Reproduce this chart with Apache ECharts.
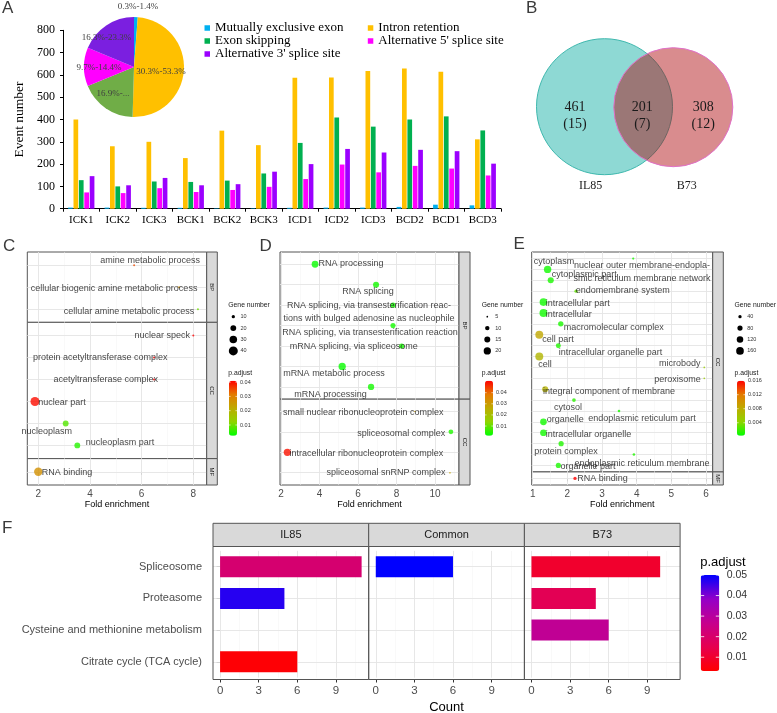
<!DOCTYPE html>
<html><head><meta charset="utf-8">
<script src="https://cdn.jsdelivr.net/npm/echarts@6/dist/echarts.min.js"></script>
<style>html,body{margin:0;padding:0;background:#fff}#c{width:777px;height:713px}</style>
</head><body><div id="c"></div>
<script>
// ================= DATA =================
// Panel A
const sampleNames = ['ICK1','ICK2','ICK3','BCK1','BCK2','BCK3','ICD1','ICD2','ICD3','BCD2','BCD1','BCD3'];
const eventTypes = ['Mutually exclusive exon','Intron retention','Exon skipping',"Alternative 5' splice site","Alternative 3' splice site"];
const mxeCounts = [5,5,4,4,2,2,4,5,5,8,18,15];
const irCounts  = [400,280,300,227,350,285,587,588,617,629,614,311];
const esCounts  = [128,100,122,120,126,158,295,409,368,400,414,351];
const a5Counts  = [73,70,92,75,84,98,133,198,163,192,180,149];
const a3Counts  = [146,105,138,105,110,166,200,268,252,264,258,202];
const pieShares = [1.2,49.2,18.3,12.5,18.7];
const pieLabels = ['0.3%-1.4%','30.3%-53.3%','16.9%-...','9.7%-14.4%','16.3%-23.3%'];
// Panel B
const vennSets = ['IL85','B73'];
const vennGeneCounts = [461,201,308];
const vennPathwayCounts = [15,7,12];
// Panel C
const cTerms = ['amine metabolic process','cellular biogenic amine metabolic process','cellular amine metabolic process','nuclear speck','protein acetyltransferase complex','acetyltransferase complex','nuclear part','nucleoplasm','nucleoplasm part','RNA binding'];
const cOntology = ['BP','BP','BP','CC','CC','CC','CC','CC','CC','MF'];
const cFold = [5.71,7.45,8.18,8.00,6.48,6.48,1.87,3.06,3.51,2.00];
const cGeneNumber = [3,3,3,3,3,3,40,20,20,36];
const cPadjust = [0.035,0.027,0.010,0.041,0.041,0.041,0.040,0.008,0.005,0.027];
const cSizeTicks = [10,20,30,40];
const cPTicks = [0.04,0.03,0.02,0.01];
// Panel D
const dTerms = ['RNA processing','RNA splicing','RNA splicing, via transesterification reac-\ntions with bulged adenosine as nucleophile','RNA splicing, via transesterification reaction','mRNA splicing, via spliceosome','mRNA metabolic process','mRNA processing','small nuclear ribonucleoprotein complex','spliceosomal complex','intracellular ribonucleoprotein complex','spliceosomal snRNP complex'];
const dOntology = ['BP','BP','BP','BP','BP','BP','BP','CC','CC','CC','CC'];
const dFold = [3.77,6.94,7.82,7.82,8.27,5.18,6.68,8.96,10.83,2.33,10.78];
const dGeneNumber = [18,15,12,12,12,20,16,4,11,20,5];
const dPadjust = [0.002,0.003,0.003,0.003,0.003,0.002,0.003,0.030,0.004,0.049,0.028];
const dSizeTicks = [5,10,15,20];
const dPTicks = [0.04,0.03,0.02,0.01];
// Panel E
const eTerms = ['nuclear outer membrane-endopla-\nsmic reticulum membrane network','cytoplasm','cytoplasmic part','endomembrane system','intracellular part','intracellular','macromolecular complex','cell part','intracellular organelle part','cell','microbody','peroxisome','integral component of membrane','cytosol','endoplasmic reticulum part','organelle','intracellular organelle','protein complex','endoplasmic reticulum membrane','organelle part','RNA binding'];
const eOntology = ['CC','CC','CC','CC','CC','CC','CC','CC','CC','CC','CC','CC','CC','CC','CC','CC','CC','CC','CC','CC','MF'];
const eFold = [3.90,1.43,1.52,2.25,1.31,1.31,1.81,1.19,1.74,1.19,5.95,5.95,1.36,2.19,3.49,1.31,1.31,1.82,3.92,1.74,2.22];
const eGeneNumber = [25,150,105,40,160,170,85,170,75,170,8,8,105,47,30,125,125,80,30,80,40];
const ePadjust = [0.001,0.0008,0.001,0.003,0.0007,0.0007,0.001,0.0085,0.0012,0.0072,0.005,0.005,0.0075,0.0015,0.001,0.0008,0.0008,0.0012,0.0012,0.001,0.016];
const eSizeTicks = [40,80,120,160];
const ePTicks = [0.016,0.012,0.008,0.004];
// Panel F
const fGroups = ['IL85','Common','B73'];
const fPathways = ['Spliceosome','Proteasome','Cysteine and methionine metabolism','Citrate cycle (TCA cycle)'];
const fCounts = { IL85:[11,5,null,6], Common:[6,null,null,null], B73:[10,5,6,null] };
const fPadjust = { IL85:[0.021,0.047,null,0.004], Common:[0.05,null,null,null], B73:[0.010,0.016,0.028,null] };
const fXTicksMajor = [0,3,6,9];
const fPTicks = [0.05,0.04,0.03,0.02,0.01];

// ================= LAYOUT / STYLE =================
const SANS = 'Liberation Sans, Arial, sans-serif';
const SERIF = 'Liberation Serif, Times New Roman, serif';
const GYR = ['#00FF00','#8FD400','#BDAB00','#E47A00','#FF0000'];
const RB = ['#FF0000','#E6004F','#C6008D','#9400C8','#0000FF'];
const aColors = ['#00B0F0','#FFC000','#00B050','#FF00FF','#9B00FF'];
const pieColors = ['#00B0F0','#FFC000','#70AD47','#FF00FF','#7B1FE0'];
const pieLabelOffset = [[3,-32],[-1,3],[-5,4],[-7,1],[-12,-6]];
const cLabelOffset = [[16,-5],[-65,1.6],[-69,2],[-31,0.3],[-53.7,0.3],[-48.3,0],[27,0.6],[-19,7.7],[42.7,-2.7],[28.7,1]];
const dLabelOffset = [[36,-1],[-8,7],[-24,7.2],[-23,7.2],[-48,0],[-8.3,7],[-40.5,7.3],[-51.7,1.4],[-49.7,1.2],[79,1],[-64,0]];
const eLabelOffset = [[8.7,13.2],[6.5,-8.4],[33.5,-5.3],[46.8,-0.5],[34.2,1.2],[25.2,2],[53,3.4],[18.7,5.2],[52.2,6.6],[5.7,7.7],[-24.6,-3.5],[-26.8,1.6],[63.8,2.4],[-6,7.5],[23,7.9],[21.7,-2],[45,1.4],[4.8,7.9],[8,8.6],[29.7,1.1],[27.5,0.5]];

const grids = [], xAxes = [], yAxes = [], series = [], graphics = [], visualMaps = [];

function txt(text, x, y, o) {
  o = o || {};
  graphics.push({type:'text', x, y, rotation:o.rotation||0, z:o.z||20, silent:true,
    style:{text, fontSize:o.size||10, fontFamily:o.font||SANS, fill:o.color||'#000',
      align:o.align||'center', verticalAlign:o.valign||'middle', textAlign:o.align||'center', textVerticalAlign:o.valign||'middle', lineHeight:o.lh}});
}

// ---------- Panel A ----------
grids.push({left:63, top:30.3, width:438, height:178.4, outerBoundsMode:'none'});
xAxes.push({type:'category', gridIndex:0, data:sampleNames,
  axisLine:{show:true, lineStyle:{color:'#000', width:1}}, axisTick:{show:true, interval:0, length:3, lineStyle:{color:'#000'}},
  axisLabel:{interval:0, fontFamily:SERIF, fontSize:11, color:'#000', margin:6}, splitLine:{show:false}});
yAxes.push({type:'value', gridIndex:0, min:0, max:800, interval:100,
  axisLine:{show:true, lineStyle:{color:'#000'}}, axisTick:{show:true, length:3, lineStyle:{color:'#000'}},
  axisLabel:{fontFamily:SERIF, fontSize:12, color:'#000', margin:8}, splitLine:{show:false},
  name:'Event number', nameLocation:'middle', nameGap:29, nameTextStyle:{fontFamily:SERIF, fontSize:13.5, color:'#000'}});
const aValues = [mxeCounts, irCounts, esCounts, a5Counts, a3Counts];
eventTypes.forEach((name,i)=>series.push({type:'bar', name, xAxisIndex:0, yAxisIndex:0, data:aValues[i],
  barWidth:4.7, barGap:'15%', itemStyle:{color:aColors[i]}, silent:true}));
series.push({type:'pie', center:[134,67], radius:50, startAngle:90, clockwise:true, silent:true, z:5,
  data:pieShares.map((v,i)=>({value:v, name:eventTypes[i], itemStyle:{color:pieColors[i], borderWidth:0},
    label:{offset:pieLabelOffset[i], formatter:pieLabels[i]}})),
  label:{show:true, position:'inside', rotate:0, fontSize:9, fontFamily:SERIF, color:'#404040'},
  labelLine:{show:false}});

// ---------- Panel B (Venn) ----------
graphics.push({type:'circle', z:5, silent:true, shape:{cx:604.5, cy:106.7, r:68}, style:{fill:'#8ED9D4', stroke:'#3FB8AE', lineWidth:1}});
graphics.push({type:'circle', z:6, silent:true, shape:{cx:673.3, cy:107.2, r:59.5}, style:{fill:'rgba(171,0,4,0.45)', stroke:'#E070C8', lineWidth:1}});
const vennX = [575, 642.3, 703.2];
vennGeneCounts.forEach((v,i)=>{
  txt(String(v), vennX[i], 107.3, {size:14, font:SERIF, color:'#1a1a1a'});
  txt('('+vennPathwayCounts[i]+')', vennX[i], 124, {size:14, font:SERIF, color:'#1a1a1a'});
});
txt(vennSets[0], 590.7, 186, {size:12, font:SERIF, color:'#1a1a1a'});
txt(vennSets[1], 686.7, 186, {size:12, font:SERIF, color:'#1a1a1a'});

// ---------- Dot panels ----------
function sizeScale(n0, d0, slope, minD2) { return n => Math.sqrt(Math.max(minD2, d0*d0 + (n-n0)*slope)); }

function buildDot(cfg) {
  const facets = [...new Set(cfg.ontology)];
  const counts = facets.map(f=>cfg.ontology.filter(o=>o===f).length);
  const unit = (cfg.bottom-cfg.top)/counts.reduce((s,n)=>s+n+0.2,0);
  let y = cfg.top;
  const idx = [];
  facets.forEach((f,fi)=>{
    const h = (counts[fi]+0.2)*unit;
    const gi = grids.length;
    const isBottom = fi===facets.length-1;
    grids.push({left:cfg.left, top:y, width:cfg.right-cfg.left, height:h, show:true, borderColor:'#555', borderWidth:1, backgroundColor:'#fff', outerBoundsMode:'none'});
    xAxes.push({type:'value', gridIndex:gi, min:cfg.xmin, max:cfg.xmax, splitNumber:cfg.splitNumber, show:isBottom,
      axisLine:{show:false}, axisTick:{show:true, length:3, lineStyle:{color:'#333'}},
      axisLabel:{fontSize:10, fontFamily:SANS, color:'#4D4D4D', margin:4, showMinLabel:false, showMaxLabel:false},
      splitLine:{show:false}, name:isBottom?'Fold enrichment':'', nameLocation:'middle', nameGap:13.5,
      nameTextStyle:{fontSize:9, fontFamily:SANS, color:'#000'}});
    yAxes.push({type:'value', gridIndex:gi, min:-0.6, max:counts[fi]-0.4, inverse:true, show:false});
    const data = []; let r = 0;
    cfg.ontology.forEach((o,i)=>{ if(o!==f) return;
      data.push({name:cfg.terms[i], value:[cfg.fold[i], r, cfg.genes[i], cfg.padj[i]], label:{offset:cfg.labelOffset[i]}}); r++; });
    const ml = [];
    cfg.majors.forEach(v=>ml.push({xAxis:v, lineStyle:{color:'#E4E4E4', width:0.9, type:'solid'}}));
    cfg.minors.forEach(v=>ml.push({xAxis:v, lineStyle:{color:'#F2F2F2', width:0.5, type:'solid'}}));
    for(let k=0;k<counts[fi];k++) ml.push({yAxis:k, lineStyle:{color:'#E4E4E4', width:0.9, type:'solid'}});
    idx.push(series.length);
    series.push({type:'scatter', xAxisIndex:gi, yAxisIndex:gi, data, silent:true, z:3,
      symbolSize:v=>cfg.sizeFn(v[2]),
      label:{show:true, position:'inside', formatter:'{b}', fontSize:9, fontFamily:SANS, color:'#111', lineHeight:12.8},
      markLine:{silent:true, z:1, symbol:['none','none'], label:{show:false}, animation:false, data:ml}});
    graphics.push({type:'rect', z:10, silent:true, shape:{x:cfg.right, y, width:cfg.stripW, height:h}, style:{fill:'#D9D9D9', stroke:'#555', lineWidth:1}});
    txt(f, cfg.right+cfg.stripW/2, y+h/2, {size:6, color:'#1A1A1A', rotation:-Math.PI/2});
    y += h;
  });
  // size legend
  const lg = cfg.legend;
  txt('Gene number', lg.x, 305, {size:6.8, align:'left', color:'#1A1A1A'});
  cfg.sizeTicks.forEach((n,i)=>{
    const cy = 316.7 + i*11.4;
    graphics.push({type:'circle', z:20, silent:true, shape:{cx:lg.dotX, cy, r:cfg.sizeFn(n)/2}, style:{fill:'#000'}});
    txt(String(n), lg.labX, cy, {size:5.5, align:'left', color:'#333'});
  });
  // colour bar
  txt('p.adjust', lg.x, 373.5, {size:6.8, align:'left', color:'#1A1A1A'});
  const bt = 380.7, bh = 55;
  visualMaps.push({type:'continuous', seriesIndex:idx, dimension:3, min:cfg.pmin, max:cfg.pmax,
    inRange:{color:GYR}, show:true, orient:'vertical', left:lg.barX, top:bt, itemWidth:8, itemHeight:bh,
    calculable:false, padding:0, hoverLink:false, realtime:false});
  cfg.pTicks.forEach(p=>{
    const ty = bt + (cfg.pmax-p)/(cfg.pmax-cfg.pmin)*bh;
    graphics.push({type:'line', z:25, silent:true, shape:{x1:lg.barX, y1:ty, x2:lg.barX+1.6, y2:ty}, style:{stroke:'#fff', lineWidth:0.6}});
    graphics.push({type:'line', z:25, silent:true, shape:{x1:lg.barX+6.4, y1:ty, x2:lg.barX+8, y2:ty}, style:{stroke:'#fff', lineWidth:0.6}});
    txt(String(p), lg.barX+11, ty, {size:5.5, align:'left', color:'#333'});
  });
}

buildDot({terms:cTerms, ontology:cOntology, fold:cFold, genes:cGeneNumber, padj:cPadjust, labelOffset:cLabelOffset,
  left:27.3, right:206.7, stripW:10.6, top:252, bottom:485, xmin:1.574, xmax:8.519, splitNumber:3,
  majors:[2,4,6,8], minors:[3,5,7], sizeFn:sizeScale(10,3.3,2.33,4), sizeTicks:cSizeTicks,
  pmin:0.0025, pmax:0.041, pTicks:cPTicks, legend:{x:228.3, dotX:233.3, labX:240.5, barX:229}});
buildDot({terms:dTerms, ontology:dOntology, fold:dFold, genes:dGeneNumber, padj:dPadjust, labelOffset:dLabelOffset,
  left:280, right:459, stripW:11, top:252, bottom:485, xmin:1.948, xmax:11.25, splitNumber:4,
  majors:[2,4,6,8,10], minors:[3,5,7,9,11], sizeFn:sizeScale(5,1.7,3.34,2.5), sizeTicks:dSizeTicks,
  pmin:0.0013, pmax:0.0508, pTicks:dPTicks, legend:{x:481.7, dotX:487.3, labX:495.2, barX:485}});
buildDot({terms:eTerms, ontology:eOntology, fold:eFold, genes:eGeneNumber, padj:ePadjust, labelOffset:eLabelOffset,
  left:531.7, right:712.7, stripW:10.6, top:252, bottom:485, xmin:0.971, xmax:6.193, splitNumber:5,
  majors:[1,2,3,4,5,6], minors:[1.5,2.5,3.5,4.5,5.5], sizeFn:sizeScale(40,3.3,0.4,3), sizeTicks:eSizeTicks,
  pmin:0.0003, pmax:0.016, pTicks:ePTicks, legend:{x:734.5, dotX:740, labX:747.2, barX:737}});

// ---------- Panel F ----------
const fLeft = 213, fW = 155.7, fTop = 546.5, fBot = 679.5, fStripTop = 523.3;
const fIdx = [];
fGroups.forEach((g,gi)=>{
  const left = fLeft + gi*fW;
  const gIdx = grids.length;
  grids.push({left, top:550.9, width:fW, height:126.7, show:false, outerBoundsMode:'none'});
  xAxes.push({type:'value', gridIndex:gIdx, min:-0.55, max:11.55, splitNumber:4, offset:fBot-677.6,
    axisLine:{show:false}, axisTick:{show:true, length:3, lineStyle:{color:'#333'}},
    axisLabel:{fontSize:11.5, fontFamily:SANS, color:'#4D4D4D', margin:5, showMinLabel:false, showMaxLabel:false},
    splitLine:{show:false}, name:gi===1?'Count':'', nameLocation:'middle', nameGap:21,
    nameTextStyle:{fontSize:13, fontFamily:SANS, color:'#000'}});
  yAxes.push({type:'category', gridIndex:gIdx, data:fPathways, inverse:true, show:gi===0,
    axisLine:{show:false}, axisTick:{show:true, interval:0, length:3.5, alignWithLabel:true, lineStyle:{color:'#333'}},
    axisLabel:{interval:0, fontSize:11, fontFamily:SANS, color:'#4D4D4D', margin:11}, splitLine:{show:false}});
  const data = [];
  fPathways.forEach((p,i)=>{ if(fCounts[g][i]!=null) data.push([fCounts[g][i], p, fPadjust[g][i]]); });
  const ml = [];
  fXTicksMajor.forEach(v=>ml.push({xAxis:v, lineStyle:{color:'#E4E4E4', width:0.9, type:'solid'}}));
  fXTicksMajor.forEach(v=>ml.push({xAxis:v+1.5, lineStyle:{color:'#F2F2F2', width:0.5, type:'solid'}}));
  fPathways.forEach(p=>ml.push({yAxis:p, lineStyle:{color:'#E4E4E4', width:0.9, type:'solid'}}));
  fIdx.push(series.length);
  series.push({type:'bar', xAxisIndex:gIdx, yAxisIndex:gIdx, data, encode:{x:0, y:1}, barWidth:21, silent:true, z:3,
    markLine:{silent:true, z:1, symbol:['none','none'], label:{show:false}, animation:false, data:ml}});
  graphics.push({type:'rect', z:10, silent:true, shape:{x:left, y:fTop, width:fW, height:fBot-fTop}, style:{fill:'none', stroke:'#555', lineWidth:1}});
  graphics.push({type:'rect', z:10, silent:true, shape:{x:left, y:fStripTop, width:fW, height:fTop-fStripTop}, style:{fill:'#D9D9D9', stroke:'#555', lineWidth:1}});
  txt(g, left+fW/2, (fStripTop+fTop)/2, {size:11, color:'#1A1A1A'});
});
const fbTop = 575, fbH = 96, fbX = 700.7, fPmin = 0.0033, fPmax = 0.05;
visualMaps.push({type:'continuous', seriesIndex:fIdx, dimension:2, min:fPmin, max:fPmax, inRange:{color:RB},
  show:true, orient:'vertical', left:fbX, top:fbTop, itemWidth:18.6, itemHeight:fbH, calculable:false, padding:0, hoverLink:false});
txt('p.adjust', fbX-0.5, 562.3, {size:13, align:'left', color:'#000'});
fPTicks.forEach(p=>{
  const ty = fbTop + (fPmax-p)/(fPmax-fPmin)*fbH;
  graphics.push({type:'line', z:25, silent:true, shape:{x1:fbX, y1:ty, x2:fbX+3.5, y2:ty}, style:{stroke:'#fff', lineWidth:0.8}});
  graphics.push({type:'line', z:25, silent:true, shape:{x1:fbX+15.1, y1:ty, x2:fbX+18.6, y2:ty}, style:{stroke:'#fff', lineWidth:0.8}});
  txt(p.toFixed(2), fbX+26, ty, {size:10.5, align:'left', color:'#333'});
});

// ---------- Panel letters ----------
[['A',2,8],['B',526,8],['C',3,246],['D',259.5,246],['E',513.5,244.5],['F',2,528.3]].forEach(l=>
  txt(l[0], l[1], l[2], {size:17, align:'left', color:'#3a3a3a'}));

const option = {
  animation:false,
  backgroundColor:'#fff',
  grid:grids, xAxis:xAxes, yAxis:yAxes, series, visualMap:visualMaps,
  legend:[
    {data:[eventTypes[0],eventTypes[2],eventTypes[4]], orient:'vertical', left:204.5, top:21.5, padding:0, itemGap:0,
     itemWidth:5.5, itemHeight:5.5, icon:'rect', selectedMode:false,
     textStyle:{fontFamily:SERIF, fontSize:13, color:'#000', lineHeight:13}},
    {data:[eventTypes[1],eventTypes[3]], orient:'vertical', left:367.8, top:21.5, padding:0, itemGap:0,
     itemWidth:5.5, itemHeight:5.5, icon:'rect', selectedMode:false,
     textStyle:{fontFamily:SERIF, fontSize:13, color:'#000', lineHeight:13}}
  ],
  graphic:{elements:graphics}
};
const chart = echarts.init(document.getElementById('c'), null, {renderer:'canvas', width:777, height:713});
chart.setOption(option);
</script>
</body></html>
